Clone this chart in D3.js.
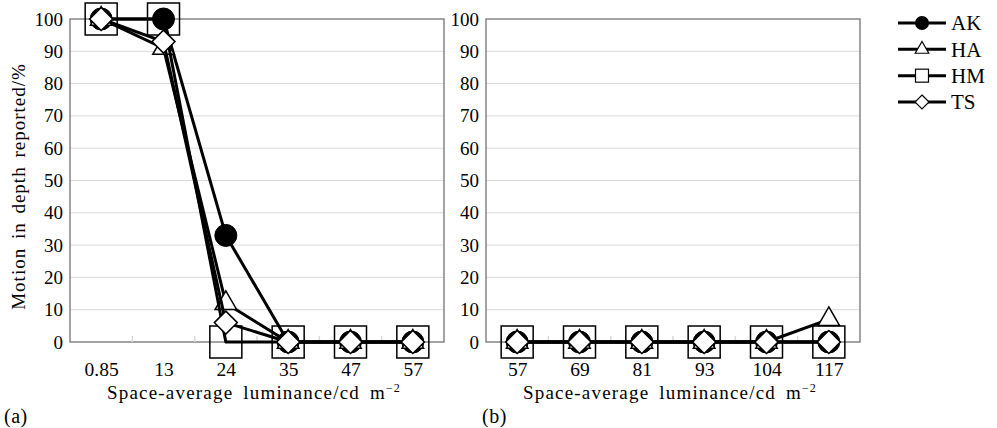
<!DOCTYPE html>
<html>
<head>
<meta charset="utf-8">
<script src="https://cdn.jsdelivr.net/npm/d3@7"></script>
<style>
  html, body { margin: 0; padding: 0; background: #fff; }
  svg { display: block; }
  text { font-family: "Liberation Serif", "Times New Roman", "DejaVu Serif", serif; fill: #000; }
</style>
</head>
<body>
<div id="chart"></div>
<script>
// ---- data ----
const categoriesA = ["0.85", "13", "24", "35", "47", "57"];
const categoriesB = ["57", "69", "81", "93", "104", "117"];
const seriesNames = ["AK", "HA", "HM", "TS"];
const yTicks = [0, 10, 20, 30, 40, 50, 60, 70, 80, 90, 100];

const akA = [100, 100, 33, 0, 0, 0];
const haA = [100, 91, 12, 0, 0, 0];
const hmA = [100, 100, 0, 0, 0, 0];
const tsA = [100, 93, 6, 0, 0, 0];

const akB = [0, 0, 0, 0, 0, 0];
const haB = [0, 0, 0, 0, 0, 7];
const hmB = [0, 0, 0, 0, 0, 0];
const tsB = [0, 0, 0, 0, 0, 0];

const xTitle = "Space-average luminance/cd  m";
const xTitleSup = "\u22122";
const yTitle = "Motion in depth reported/%";

// ---- layout ----
const W = 997, H = 428;
const plotTop = 19, plotBottom = 342;
const panels = [
  { left: 70, right: 444, cats: categoriesA, series: [akA, haA, hmA, tsA], label: "(a)", labelX: 4 },
  { left: 486, right: 860, cats: categoriesB, series: [akB, haB, hmB, tsB], label: "(b)", labelX: 482 }
];

const svg = d3.select("#chart").append("svg").attr("width", W).attr("height", H);

const y = d3.scaleLinear().domain([0, 100]).range([plotBottom, plotTop]);

const diamondPath = r => `M0,${-r}L${r},0L0,${r}L${-r},0Z`;
const markerDraw = {
  AK: (g) => g.append("circle").attr("r", 11).attr("fill", "#000").attr("stroke", "#000"),
  HA: (g) => g.append("path").attr("d", d3.symbol(d3.symbolTriangle, 200)()).attr("fill", "#fff").attr("stroke", "#000").attr("stroke-width", 1.5),
  HM: (g) => g.append("rect").attr("x", -16).attr("y", -16).attr("width", 32).attr("height", 32).attr("fill", "none").attr("stroke", "#000").attr("stroke-width", 1.5),
  TS: (g) => g.append("path").attr("d", diamondPath(11.5)).attr("fill", "#fff").attr("stroke", "#000").attr("stroke-width", 1.5)
};

panels.forEach(p => {
  const x = d3.scalePoint().domain(p.cats).range([p.left, p.right]).padding(0.5);
  const step = x.step();
  const g = svg.append("g");

  // gridlines
  g.selectAll(".grid").data(yTicks.filter(v => v > 0 && v < 100)).join("line")
    .attr("x1", p.left).attr("x2", p.right)
    .attr("y1", d => y(d)).attr("y2", d => y(d))
    .attr("stroke", "#d9d9d9").attr("stroke-width", 1);

  // frame
  g.append("rect").attr("x", p.left).attr("y", plotTop)
    .attr("width", p.right - p.left).attr("height", plotBottom - plotTop)
    .attr("fill", "none").attr("stroke", "#858585").attr("stroke-width", 1.5);

  // category boundary ticks
  const bounds = p.cats.slice(1).map(c => x(c) - step / 2);
  g.selectAll(".ctick").data(bounds).join("line")
    .attr("x1", d => d).attr("x2", d => d)
    .attr("y1", plotBottom).attr("y2", plotBottom - 6)
    .attr("stroke", "#d9d9d9").attr("stroke-width", 1.5);

  // y axis
  const ya = g.append("g").attr("transform", `translate(${p.left},0)`)
    .call(d3.axisLeft(y).tickValues(yTicks).tickSize(0).tickPadding(7));
  ya.select(".domain").remove();
  ya.selectAll("text").attr("font-size", 19).attr("font-family", "Liberation Serif");

  // x axis
  const xa = g.append("g").attr("transform", `translate(0,${plotBottom})`)
    .call(d3.axisBottom(x).tickSize(0).tickPadding(20));
  xa.select(".domain").remove();
  xa.selectAll("text").attr("font-size", 19.5).attr("font-family", "Liberation Serif");

  // x title
  const t = svg.append("text").attr("x", (p.left + p.right) / 2 - 3).attr("y", 399)
    .attr("text-anchor", "middle").attr("font-size", 19)
    .attr("letter-spacing", 1.2).attr("word-spacing", 4);
  t.append("tspan").text(xTitle);
  t.append("tspan").attr("dy", -7).attr("font-size", 12).text(xTitleSup);

  // panel label
  svg.append("text").attr("x", p.labelX).attr("y", 423).attr("font-size", 20).attr("letter-spacing", 0.5).text(p.label);

  // series
  p.series.forEach((vals, i) => {
    const name = seriesNames[i];
    const line = d3.line().x((d, j) => x(p.cats[j])).y(d => y(d));
    g.append("path").attr("d", line(vals)).attr("fill", "none")
      .attr("stroke", "#000").attr("stroke-width", 3).attr("stroke-linejoin", "round");
    vals.forEach((v, j) => {
      const m = g.append("g").attr("transform", `translate(${x(p.cats[j])},${y(v)})`);
      markerDraw[name](m);
    });
  });
});

// y title
svg.append("text").attr("transform", `translate(25,${(plotTop + plotBottom) / 2 + 6}) rotate(-90)`)
  .attr("text-anchor", "middle").attr("font-size", 19)
  .attr("letter-spacing", 1).attr("word-spacing", 3).text(yTitle);

// legend
const legY = d3.scalePoint().domain(seriesNames).range([23, 102]);
const leg = svg.append("g");
seriesNames.forEach(n => {
  const gy = legY(n);
  leg.append("line").attr("x1", 898).attr("x2", 946).attr("y1", gy).attr("y2", gy)
    .attr("stroke", "#000").attr("stroke-width", 3);
  const m = leg.append("g").attr("transform", `translate(922,${gy})`);
  if (n === "AK") m.append("circle").attr("r", 7).attr("fill", "#000");
  if (n === "HA") m.append("path").attr("d", d3.symbol(d3.symbolTriangle, 80)()).attr("fill", "#fff").attr("stroke", "#000").attr("stroke-width", 1.2);
  if (n === "HM") m.append("rect").attr("x", -6.5).attr("y", -6.5).attr("width", 13).attr("height", 13).attr("fill", "#fff").attr("stroke", "#000").attr("stroke-width", 1.2);
  if (n === "TS") m.append("path").attr("d", diamondPath(7)).attr("fill", "#fff").attr("stroke", "#000").attr("stroke-width", 1.2);
  leg.append("text").attr("x", 951).attr("y", gy).attr("dy", "0.35em").attr("font-size", 21).text(n);
});
</script>
</body>
</html>
